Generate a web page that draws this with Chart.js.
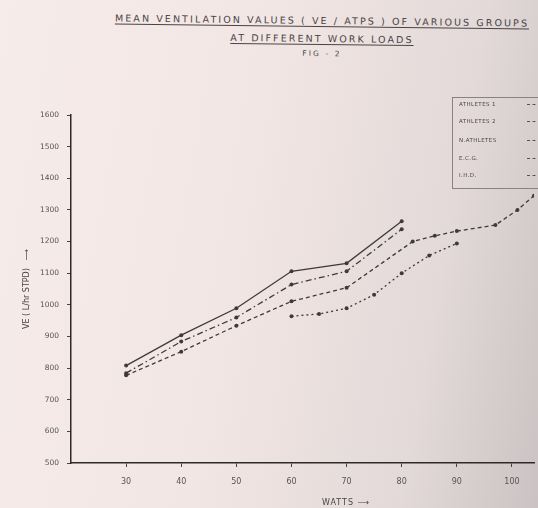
<!DOCTYPE html>
<html>
<head>
<meta charset="utf-8">
<script src="https://cdn.jsdelivr.net/npm/chart.js@4.4.0/dist/chart.umd.min.js"></script>
<style>
  html, body { margin: 0; padding: 0; }
  body {
    width: 538px; height: 508px; overflow: hidden; position: relative;
    background: linear-gradient(100deg, #f6ecea 0%, #f2e6e4 45%, #e2d9d8 78%, #cbc3c3 100%);
    font-family: "DejaVu Sans", sans-serif; color: #4a4444;
  }
  #chart { position: absolute; left: 0; top: 0; }
  .head { position: absolute; left: 92px; width: 460px; text-align: center;
    font-size: 9.5px; letter-spacing: 2.1px; transform: rotate(0.7deg); }
  .head u { text-underline-offset: 2px; }
  #legend { position: absolute; left: 452px; top: 97px; width: 110px; height: 90px;
    border: 1px solid #8a8282; font-size: 5.5px; letter-spacing: 0.4px; }
  #legend div { position: absolute; left: 6px; white-space: nowrap; }
  #legend span { position: absolute; left: 68px; top: 3px; width: 14px; border-top: 1px dashed #555; }
  #xname { position: absolute; left: 322px; top: 498px; font-size: 8px; letter-spacing: 1px; }
</style>
</head>
<body>
<div class="head" style="top:15px"><u>MEAN VENTILATION VALUES ( VE / ATPS ) OF VARIOUS GROUPS</u></div>
<div class="head" style="top:33px"><u>AT DIFFERENT WORK LOADS</u></div>
<div class="head" style="top:49px;font-size:7.5px">FIG - 2</div>
<canvas id="chart" width="538" height="508"></canvas>
<div id="legend"></div>
<div id="xname">WATTS &#x27F6;</div>
<script>
// values
var groups = ['ATHLETES 1', 'ATHLETES 2', 'N.ATHLETES', 'E.C.G.', 'I.H.D.'];

var wattsAth = [30, 40, 50, 60, 70, 80];
var athletes1 = [808, 904, 989, 1106, 1131, 1264];
var athletes2 = [784, 884, 960, 1064, 1106, 1239];

var wattsNon = [30, 40, 50, 60, 70, 82, 86, 90, 97, 101, 104];
var nonAthletes = [777, 852, 934, 1011, 1054, 1200, 1218, 1233, 1252, 1300, 1345];

var wattsEcg = [60, 65, 70, 75, 80, 85, 90];
var ecg = [964, 971, 989, 1032, 1100, 1156, 1194];

var wattsIhd = [];
var ihd = [];

var wattTicks = [30, 40, 50, 60, 70, 80, 90, 100];
var veTicks = [500, 600, 700, 800, 900, 1000, 1100, 1200, 1300, 1400, 1500, 1600];

function pts(xs, ys) {
  return xs.map(function(x, i) { return {x: x, y: ys[i]}; });
}

var ink = '#3f3a3a';
var dashes = [[], [6, 3, 1.5, 3], [4, 3], [2, 3], [5, 2]];
var series = [pts(wattsAth, athletes1), pts(wattsAth, athletes2), pts(wattsNon, nonAthletes),
              pts(wattsEcg, ecg), pts(wattsIhd, ihd)];

var ctx = document.getElementById('chart').getContext('2d');

var chart = new Chart(ctx, {
  type: 'line',
  data: {
    datasets: groups.map(function(g, i) {
      return {
        label: g,
        data: series[i],
        borderColor: ink,
        backgroundColor: ink,
        borderWidth: 1.3,
        borderDash: dashes[i],
        pointRadius: 2,
        pointBorderWidth: 0,
        tension: 0
      };
    })
  },
  options: {
    responsive: false,
    animation: false,
    layout: { padding: { top: 115, right: 0, left: 0, bottom: 0 } },
    plugins: { legend: { display: false }, tooltip: { enabled: false } },
    scales: {
      x: {
        type: 'linear', min: 20, max: 104,
        afterBuildTicks: function(s) { s.ticks = wattTicks.map(function(v) { return {value: v}; }); },
        afterFit: function(s) { s.height = 45; },
        grid: { drawOnChartArea: false, color: '#444', tickLength: 4 },
        border: { color: '#2f2a2a', width: 1.5 },
        ticks: { color: '#555', font: { family: 'DejaVu Sans', size: 8 }, padding: 10, maxRotation: 0, autoSkip: false,
                 callback: function(v) { return String(v); } }
      },
      y: {
        min: 500, max: 1600,
        afterBuildTicks: function(s) { s.ticks = veTicks.map(function(v) { return {value: v}; }); },
        afterFit: function(s) { s.width = 71; },
        grid: { drawOnChartArea: false, color: '#444', tickLength: 4 },
        border: { color: '#2f2a2a', width: 1.5 },
        ticks: { color: '#555', font: { family: 'DejaVu Sans', size: 7.5 }, padding: 8, autoSkip: false,
                 callback: function(v) { return String(v); } },
        title: {
          display: true,
          text: 'VE ( L/hr STPD)   \u27F6',
          color: '#4a4444',
          font: { family: 'DejaVu Sans', size: 8 },
          padding: { top: 22, bottom: 0 }
        }
      }
    }
  }
});

// legend box, text first then a short line sample
var rows = [104, 121, 140, 158, 175];
var box = document.getElementById('legend');
chart.data.datasets.forEach(function(d, i) {
  var r = document.createElement('div');
  r.style.top = (rows[i] - 97 - 4) + 'px';
  r.textContent = d.label;
  var s = document.createElement('span');
  r.appendChild(s);
  box.appendChild(r);
});
</script>
</body>
</html>
